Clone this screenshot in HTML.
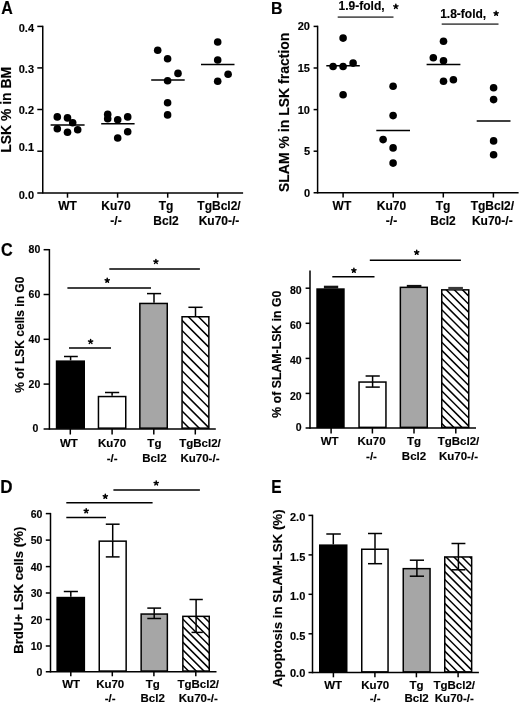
<!DOCTYPE html>
<html><head><meta charset="utf-8"><title>Figure</title>
<style>
html,body{margin:0;padding:0;background:#fff;}
body{width:520px;height:704px;overflow:hidden;}
svg{display:block;filter:blur(0.35px);}
text{font-family:"Liberation Sans", sans-serif;font-weight:bold;stroke:#000;stroke-width:0.15px;}
</style></head><body>
<svg width="520" height="704" viewBox="0 0 520 704">

<rect width="520" height="704" fill="#fff"/>
<text transform="translate(1.2 13.8) scale(1 1.1)" font-size="16">A</text>
<line x1="42.75" y1="25.7" x2="42.75" y2="193.6" stroke="#000" stroke-width="1.5"/>
<line x1="37.3" y1="26.4" x2="42.75" y2="26.4" stroke="#000" stroke-width="1.5"/>
<line x1="37.3" y1="67.9" x2="42.75" y2="67.9" stroke="#000" stroke-width="1.5"/>
<line x1="37.3" y1="109.5" x2="42.75" y2="109.5" stroke="#000" stroke-width="1.5"/>
<line x1="37.3" y1="151.2" x2="42.75" y2="151.2" stroke="#000" stroke-width="1.5"/>
<line x1="37.3" y1="192.9" x2="243.1" y2="192.9" stroke="#000" stroke-width="1.5"/>
<text x="34.0" y="31.5" font-size="11" text-anchor="end" fill="#000">0.4</text>
<text x="34.0" y="72.8" font-size="11" text-anchor="end" fill="#000">0.3</text>
<text x="34.0" y="114.4" font-size="11" text-anchor="end" fill="#000">0.2</text>
<text x="34.0" y="150.6" font-size="11" text-anchor="end" fill="#000">0.1</text>
<text x="34.0" y="198.7" font-size="11" text-anchor="end" fill="#000">0.0</text>
<line x1="67.5" y1="192.9" x2="67.5" y2="197.7" stroke="#000" stroke-width="1.5"/>
<line x1="117.6" y1="192.9" x2="117.6" y2="197.7" stroke="#000" stroke-width="1.5"/>
<line x1="167.7" y1="192.9" x2="167.7" y2="197.7" stroke="#000" stroke-width="1.5"/>
<line x1="217.7" y1="192.9" x2="217.7" y2="197.7" stroke="#000" stroke-width="1.5"/>
<text x="11.0" y="109.8" font-size="13.9" text-anchor="middle" fill="#000" transform="rotate(-90 11.0 109.8)">LSK % in BM</text>
<circle cx="57.3" cy="116.9" r="3.8" fill="#000"/>
<circle cx="67.5" cy="117.9" r="3.8" fill="#000"/>
<circle cx="72.7" cy="122.7" r="3.8" fill="#000"/>
<circle cx="57.3" cy="128.8" r="3.8" fill="#000"/>
<circle cx="67.5" cy="132.3" r="3.8" fill="#000"/>
<circle cx="77.7" cy="129.8" r="3.8" fill="#000"/>
<circle cx="107.7" cy="114.4" r="3.8" fill="#000"/>
<circle cx="107.7" cy="118.7" r="3.8" fill="#000"/>
<circle cx="117.7" cy="119.8" r="3.8" fill="#000"/>
<circle cx="127.7" cy="116.9" r="3.8" fill="#000"/>
<circle cx="127.7" cy="131.7" r="3.8" fill="#000"/>
<circle cx="117.7" cy="138" r="3.8" fill="#000"/>
<circle cx="157.7" cy="50.3" r="3.8" fill="#000"/>
<circle cx="167.6" cy="58.8" r="3.8" fill="#000"/>
<circle cx="178" cy="73.4" r="3.8" fill="#000"/>
<circle cx="167.6" cy="80.8" r="3.8" fill="#000"/>
<circle cx="167.6" cy="102.7" r="3.8" fill="#000"/>
<circle cx="167.6" cy="114.9" r="3.8" fill="#000"/>
<circle cx="217.7" cy="42" r="3.8" fill="#000"/>
<circle cx="217.7" cy="60" r="3.8" fill="#000"/>
<circle cx="228.1" cy="74.3" r="3.8" fill="#000"/>
<circle cx="217.7" cy="81.2" r="3.8" fill="#000"/>
<line x1="50.6" y1="125" x2="84.6" y2="125" stroke="#000" stroke-width="1.5"/>
<line x1="101.2" y1="123.7" x2="134.6" y2="123.7" stroke="#000" stroke-width="1.5"/>
<line x1="151.2" y1="80.1" x2="184.7" y2="80.1" stroke="#000" stroke-width="1.5"/>
<line x1="201" y1="64.6" x2="234.5" y2="64.6" stroke="#000" stroke-width="1.5"/>
<text x="67.5" y="209.7" font-size="12" text-anchor="middle" fill="#000">WT</text>
<text x="116.0" y="209.7" font-size="12" text-anchor="middle" fill="#000">Ku70</text>
<text x="116.0" y="224.8" font-size="12" text-anchor="middle" fill="#000">-/-</text>
<text x="166.0" y="209.7" font-size="12" text-anchor="middle" fill="#000">Tg</text>
<text x="166.0" y="224.8" font-size="12" text-anchor="middle" fill="#000">Bcl2</text>
<text x="219.0" y="209.7" font-size="12" text-anchor="middle" fill="#000">TgBcl2/</text>
<text x="219.0" y="224.8" font-size="12" text-anchor="middle" fill="#000">Ku70-/-</text>
<text transform="translate(270.9 13.7) scale(1 1.08)" font-size="16">B</text>
<line x1="317.6" y1="25.7" x2="317.6" y2="193.5" stroke="#000" stroke-width="1.5"/>
<line x1="313.6" y1="26.4" x2="317.6" y2="26.4" stroke="#000" stroke-width="1.5"/>
<line x1="313.6" y1="68.0" x2="317.6" y2="68.0" stroke="#000" stroke-width="1.5"/>
<line x1="313.6" y1="109.6" x2="317.6" y2="109.6" stroke="#000" stroke-width="1.5"/>
<line x1="313.6" y1="151.2" x2="317.6" y2="151.2" stroke="#000" stroke-width="1.5"/>
<line x1="313.6" y1="192.8" x2="518.6" y2="192.8" stroke="#000" stroke-width="1.5"/>
<text x="310.0" y="30.0" font-size="11" text-anchor="end" fill="#000">20</text>
<text x="310.0" y="72.0" font-size="11" text-anchor="end" fill="#000">15</text>
<text x="310.0" y="114.0" font-size="11" text-anchor="end" fill="#000">10</text>
<text x="310.0" y="155.0" font-size="11" text-anchor="end" fill="#000">5</text>
<text x="310.0" y="197.0" font-size="11" text-anchor="end" fill="#000">0</text>
<line x1="343.1" y1="192.8" x2="343.1" y2="197.5" stroke="#000" stroke-width="1.5"/>
<line x1="393.2" y1="192.8" x2="393.2" y2="197.5" stroke="#000" stroke-width="1.5"/>
<line x1="443.3" y1="192.8" x2="443.3" y2="197.5" stroke="#000" stroke-width="1.5"/>
<line x1="493.4" y1="192.8" x2="493.4" y2="197.5" stroke="#000" stroke-width="1.5"/>
<text x="289.0" y="112.35" font-size="14" text-anchor="middle" fill="#000" transform="rotate(-90 289.0 112.35)">SLAM % in LSK fraction</text>
<circle cx="343.1" cy="38.1" r="3.8" fill="#000"/>
<circle cx="333.1" cy="66.5" r="3.8" fill="#000"/>
<circle cx="343.1" cy="66.5" r="3.8" fill="#000"/>
<circle cx="353.1" cy="63.1" r="3.8" fill="#000"/>
<circle cx="343.1" cy="94.8" r="3.8" fill="#000"/>
<circle cx="393.1" cy="86.3" r="3.8" fill="#000"/>
<circle cx="393.1" cy="115.6" r="3.8" fill="#000"/>
<circle cx="383.1" cy="139.6" r="3.8" fill="#000"/>
<circle cx="393.1" cy="147.9" r="3.8" fill="#000"/>
<circle cx="393.1" cy="163.1" r="3.8" fill="#000"/>
<circle cx="443.5" cy="41.3" r="3.8" fill="#000"/>
<circle cx="433.3" cy="57.8" r="3.8" fill="#000"/>
<circle cx="443.5" cy="60.8" r="3.8" fill="#000"/>
<circle cx="443.5" cy="81.3" r="3.8" fill="#000"/>
<circle cx="453.4" cy="79.7" r="3.8" fill="#000"/>
<circle cx="493.6" cy="87.7" r="3.8" fill="#000"/>
<circle cx="493.6" cy="99.6" r="3.8" fill="#000"/>
<circle cx="493.6" cy="140.9" r="3.8" fill="#000"/>
<circle cx="493.6" cy="154.7" r="3.8" fill="#000"/>
<line x1="326.3" y1="65.8" x2="359.8" y2="65.8" stroke="#000" stroke-width="1.5"/>
<line x1="376.3" y1="130.6" x2="410" y2="130.6" stroke="#000" stroke-width="1.5"/>
<line x1="426.6" y1="64.4" x2="460.4" y2="64.4" stroke="#000" stroke-width="1.5"/>
<line x1="476.7" y1="120.9" x2="510.5" y2="120.9" stroke="#000" stroke-width="1.5"/>
<text x="341.9" y="209.7" font-size="12" text-anchor="middle" fill="#000">WT</text>
<text x="391.5" y="209.7" font-size="12" text-anchor="middle" fill="#000">Ku70</text>
<text x="391.5" y="224.8" font-size="12" text-anchor="middle" fill="#000">-/-</text>
<text x="443.0" y="209.7" font-size="12" text-anchor="middle" fill="#000">Tg</text>
<text x="443.0" y="224.8" font-size="12" text-anchor="middle" fill="#000">Bcl2</text>
<text x="492.3" y="209.7" font-size="12" text-anchor="middle" fill="#000">TgBcl2/</text>
<text x="492.3" y="224.8" font-size="12" text-anchor="middle" fill="#000">Ku70-/-</text>
<line x1="337.7" y1="17.2" x2="393.5" y2="17.2" stroke="#5a5a5a" stroke-width="1.8"/>
<line x1="441.7" y1="24.2" x2="498.5" y2="24.2" stroke="#5a5a5a" stroke-width="1.8"/>
<text x="338.6" y="10.2" font-size="12" text-anchor="start" fill="#000">1.9-fold,</text>
<text x="440.2" y="17.6" font-size="12" text-anchor="start" fill="#000">1.8-fold,</text>
<path d="M395.85 6.56L395.85 4.36M395.85 6.56L397.94 5.88M395.85 6.56L397.14 8.34M395.85 6.56L394.56 8.34M395.85 6.56L393.76 5.88" stroke="#000" stroke-width="1.5" stroke-linecap="round" fill="none"/>
<path d="M496.10 13.51L496.10 11.31M496.10 13.51L498.19 12.83M496.10 13.51L497.39 15.29M496.10 13.51L494.81 15.29M496.10 13.51L494.01 12.83" stroke="#000" stroke-width="1.5" stroke-linecap="round" fill="none"/>
<text transform="translate(1.0 256.0) scale(1 1.1)" font-size="16.2">C</text>
<line x1="49.4" y1="249.0" x2="49.4" y2="429.6" stroke="#000" stroke-width="1.5"/>
<line x1="43.6" y1="249.7" x2="49.4" y2="249.7" stroke="#000" stroke-width="1.5"/>
<line x1="43.6" y1="294.5" x2="49.4" y2="294.5" stroke="#000" stroke-width="1.5"/>
<line x1="43.6" y1="339.3" x2="49.4" y2="339.3" stroke="#000" stroke-width="1.5"/>
<line x1="43.6" y1="384.1" x2="49.4" y2="384.1" stroke="#000" stroke-width="1.5"/>
<line x1="43.6" y1="428.9" x2="215.8" y2="428.9" stroke="#000" stroke-width="1.5"/>
<text x="40.3" y="253.39999999999998" font-size="10.5" text-anchor="end" fill="#000">80</text>
<text x="40.3" y="298.2" font-size="10.5" text-anchor="end" fill="#000">60</text>
<text x="40.3" y="343.0" font-size="10.5" text-anchor="end" fill="#000">40</text>
<text x="40.3" y="387.8" font-size="10.5" text-anchor="end" fill="#000">20</text>
<text x="38.4" y="431.8" font-size="10.5" text-anchor="end" fill="#000">0</text>
<line x1="70.3" y1="428.9" x2="70.3" y2="434.5" stroke="#000" stroke-width="1.5"/>
<line x1="112.1" y1="428.9" x2="112.1" y2="434.5" stroke="#000" stroke-width="1.5"/>
<line x1="153.8" y1="428.9" x2="153.8" y2="434.5" stroke="#000" stroke-width="1.5"/>
<line x1="195.3" y1="428.9" x2="195.3" y2="434.5" stroke="#000" stroke-width="1.5"/>
<text x="24.2" y="334.7" font-size="12" text-anchor="middle" fill="#000" transform="rotate(-90 24.2 334.7)">% of LSK cells in G0</text>
<rect x="55.8" y="360.4" width="29.200000000000003" height="68.5" fill="#000"/>
<line x1="70.6" y1="360.4" x2="70.6" y2="356.5" stroke="#000" stroke-width="1.5"/>
<line x1="64" y1="356.5" x2="77.8" y2="356.5" stroke="#000" stroke-width="1.5"/>
<rect x="98.45" y="396.55" width="27.299999999999997" height="31.599999999999966" fill="#fff" stroke="#000" stroke-width="1.5"/>
<line x1="112.1" y1="395.8" x2="112.1" y2="392.5" stroke="#000" stroke-width="1.5"/>
<line x1="105" y1="392.5" x2="119.2" y2="392.5" stroke="#000" stroke-width="1.5"/>
<rect x="139.85" y="303.45" width="27.400000000000006" height="124.69999999999999" fill="#a6a6a6" stroke="#000" stroke-width="1.5"/>
<line x1="154.0" y1="302.7" x2="154.0" y2="293.6" stroke="#000" stroke-width="1.5"/>
<line x1="147" y1="293.6" x2="161.1" y2="293.6" stroke="#000" stroke-width="1.5"/>
<clipPath id="cp1"><rect x="182.05" y="316.75" width="26.799999999999983" height="111.39999999999998"/></clipPath>
<rect x="182.05" y="316.75" width="26.799999999999983" height="111.39999999999998" fill="#fff"/>
<path clip-path="url(#cp1)" d="M179.30 438.42L211.60 470.72M179.30 428.36L211.60 460.66M179.30 418.30L211.60 450.60M179.30 408.24L211.60 440.54M179.30 398.18L211.60 430.48M179.30 388.12L211.60 420.42M179.30 378.06L211.60 410.36M179.30 368.00L211.60 400.30M179.30 357.94L211.60 390.24M179.30 347.88L211.60 380.18M179.30 337.82L211.60 370.12M179.30 327.76L211.60 360.06M179.30 317.70L211.60 350.00M179.30 307.64L211.60 339.94M179.30 297.58L211.60 329.88M179.30 287.52L211.60 319.82M179.30 277.46L211.60 309.76M179.30 267.40L211.60 299.70" stroke="#000" stroke-width="1.5" fill="none"/>
<rect x="182.05" y="316.75" width="26.799999999999983" height="111.39999999999998" fill="none" stroke="#000" stroke-width="1.5"/>
<line x1="195.5" y1="316.0" x2="195.5" y2="307.3" stroke="#000" stroke-width="1.5"/>
<line x1="188.4" y1="307.3" x2="202.6" y2="307.3" stroke="#000" stroke-width="1.5"/>
<line x1="69" y1="348.1" x2="111" y2="348.1" stroke="#000" stroke-width="1.5"/>
<path d="M90.60 341.61L90.60 339.41M90.60 341.61L92.69 340.93M90.60 341.61L91.89 343.39M90.60 341.61L89.31 343.39M90.60 341.61L88.51 340.93" stroke="#000" stroke-width="1.5" stroke-linecap="round" fill="none"/>
<line x1="67.4" y1="288" x2="151" y2="288" stroke="#000" stroke-width="1.5"/>
<path d="M107.20 280.46L107.20 278.26M107.20 280.46L109.29 279.78M107.20 280.46L108.49 282.24M107.20 280.46L105.91 282.24M107.20 280.46L105.11 279.78" stroke="#000" stroke-width="1.5" stroke-linecap="round" fill="none"/>
<line x1="109.3" y1="269" x2="199.9" y2="269" stroke="#000" stroke-width="1.5"/>
<path d="M155.90 261.61L155.90 259.41M155.90 261.61L157.99 260.93M155.90 261.61L157.19 263.39M155.90 261.61L154.61 263.39M155.90 261.61L153.81 260.93" stroke="#000" stroke-width="1.5" stroke-linecap="round" fill="none"/>
<text x="68.9" y="447.0" font-size="11.5" text-anchor="middle" fill="#000">WT</text>
<text x="112.1" y="447.0" font-size="11.5" text-anchor="middle" fill="#000">Ku70</text>
<text x="112.1" y="461.8" font-size="11.5" text-anchor="middle" fill="#000">-/-</text>
<text x="154.4" y="447.0" font-size="11.5" text-anchor="middle" fill="#000">Tg</text>
<text x="154.4" y="461.8" font-size="11.5" text-anchor="middle" fill="#000">Bcl2</text>
<text x="200.0" y="447.0" font-size="11.5" text-anchor="middle" fill="#000">TgBcl2/</text>
<text x="200.0" y="461.8" font-size="11.5" text-anchor="middle" fill="#000">Ku70-/-</text>
<line x1="310.0" y1="270.6" x2="310.0" y2="428.8" stroke="#000" stroke-width="1.5"/>
<line x1="305.6" y1="288.2" x2="310" y2="288.2" stroke="#000" stroke-width="1.5"/>
<line x1="305.6" y1="323.3" x2="310" y2="323.3" stroke="#000" stroke-width="1.5"/>
<line x1="305.6" y1="358.4" x2="310" y2="358.4" stroke="#000" stroke-width="1.5"/>
<line x1="305.6" y1="393.4" x2="310" y2="393.4" stroke="#000" stroke-width="1.5"/>
<line x1="305.6" y1="428.1" x2="476.0" y2="428.1" stroke="#000" stroke-width="1.5"/>
<text x="301.6" y="294.0" font-size="10.5" text-anchor="end" fill="#000">80</text>
<text x="301.6" y="329.0" font-size="10.5" text-anchor="end" fill="#000">60</text>
<text x="301.6" y="364.0" font-size="10.5" text-anchor="end" fill="#000">40</text>
<text x="301.6" y="400.0" font-size="10.5" text-anchor="end" fill="#000">20</text>
<text x="301.6" y="431.0" font-size="10.5" text-anchor="end" fill="#000">0</text>
<line x1="331.1" y1="428.1" x2="331.1" y2="433.5" stroke="#000" stroke-width="1.5"/>
<line x1="372.4" y1="428.1" x2="372.4" y2="433.5" stroke="#000" stroke-width="1.5"/>
<line x1="414.0" y1="428.1" x2="414.0" y2="433.5" stroke="#000" stroke-width="1.5"/>
<line x1="455.8" y1="428.1" x2="455.8" y2="433.5" stroke="#000" stroke-width="1.5"/>
<text x="281.3" y="354.1" font-size="12.3" text-anchor="middle" fill="#000" transform="rotate(-90 281.3 354.1)">% of SLAM-LSK in G0</text>
<rect x="316.3" y="288.3" width="28.399999999999977" height="139.8" fill="#000"/>
<rect x="323.9" y="285.7" width="14.3" height="2.8" fill="#151515"/>
<rect x="359.05" y="382.05" width="26.899999999999977" height="45.30000000000001" fill="#fff" stroke="#000" stroke-width="1.5"/>
<line x1="372.6" y1="381.3" x2="372.6" y2="376.0" stroke="#000" stroke-width="1.5"/>
<line x1="365.6" y1="376.0" x2="379.8" y2="376.0" stroke="#000" stroke-width="1.5"/>
<line x1="372.6" y1="381.3" x2="372.6" y2="387.1" stroke="#000" stroke-width="1.5"/>
<line x1="365.6" y1="387.1" x2="379.8" y2="387.1" stroke="#000" stroke-width="1.5"/>
<rect x="400.35" y="287.35" width="26.899999999999977" height="140.0" fill="#a6a6a6" stroke="#000" stroke-width="1.5"/>
<rect x="406.8" y="284.9" width="14.6" height="2.9" fill="#111"/>
<clipPath id="cp2"><rect x="441.75" y="289.85" width="27.0" height="137.5"/></clipPath>
<rect x="441.75" y="289.85" width="27.0" height="137.5" fill="#fff"/>
<path clip-path="url(#cp2)" d="M439.00 436.95L471.50 469.45M439.00 428.82L471.50 461.32M439.00 420.70L471.50 453.20M439.00 412.57L471.50 445.07M439.00 404.45L471.50 436.95M439.00 396.32L471.50 428.82M439.00 388.20L471.50 420.70M439.00 380.07L471.50 412.57M439.00 371.95L471.50 404.45M439.00 363.82L471.50 396.32M439.00 355.70L471.50 388.20M439.00 347.57L471.50 380.07M439.00 339.45L471.50 371.95M439.00 331.32L471.50 363.82M439.00 323.20L471.50 355.70M439.00 315.07L471.50 347.57M439.00 306.95L471.50 339.45M439.00 298.82L471.50 331.32M439.00 290.70L471.50 323.20M439.00 282.57L471.50 315.07M439.00 274.45L471.50 306.95M439.00 266.32L471.50 298.82M439.00 258.20L471.50 290.70M439.00 250.07L471.50 282.57" stroke="#000" stroke-width="1.5" fill="none"/>
<rect x="441.75" y="289.85" width="27.0" height="137.5" fill="none" stroke="#000" stroke-width="1.5"/>
<rect x="448.3" y="286.9" width="14.6" height="3.0" fill="#3a3a3a"/>
<line x1="332.3" y1="276.7" x2="374.5" y2="276.7" stroke="#000" stroke-width="1.5"/>
<path d="M353.90 270.51L353.90 268.31M353.90 270.51L355.99 269.83M353.90 270.51L355.19 272.29M353.90 270.51L352.61 272.29M353.90 270.51L351.81 269.83" stroke="#000" stroke-width="1.5" stroke-linecap="round" fill="none"/>
<line x1="369.8" y1="260.2" x2="460.9" y2="260.2" stroke="#000" stroke-width="1.5"/>
<path d="M416.70 252.51L416.70 250.31M416.70 252.51L418.79 251.83M416.70 252.51L417.99 254.29M416.70 252.51L415.41 254.29M416.70 252.51L414.61 251.83" stroke="#000" stroke-width="1.5" stroke-linecap="round" fill="none"/>
<text x="329.6" y="445.1" font-size="11.5" text-anchor="middle" fill="#000">WT</text>
<text x="371.5" y="445.1" font-size="11.5" text-anchor="middle" fill="#000">Ku70</text>
<text x="371.5" y="459.6" font-size="11.5" text-anchor="middle" fill="#000">-/-</text>
<text x="414.0" y="445.1" font-size="11.5" text-anchor="middle" fill="#000">Tg</text>
<text x="414.0" y="459.6" font-size="11.5" text-anchor="middle" fill="#000">Bcl2</text>
<text x="458.5" y="445.1" font-size="11.5" text-anchor="middle" fill="#000">TgBcl2/</text>
<text x="458.5" y="459.6" font-size="11.5" text-anchor="middle" fill="#000">Ku70-/-</text>
<text transform="translate(0.2 492.5) scale(1 1.08)" font-size="17">D</text>
<line x1="50.5" y1="512.9" x2="50.5" y2="672.5" stroke="#000" stroke-width="1.5"/>
<line x1="45.8" y1="513.6" x2="50.5" y2="513.6" stroke="#000" stroke-width="1.5"/>
<line x1="45.8" y1="540.1" x2="50.5" y2="540.1" stroke="#000" stroke-width="1.5"/>
<line x1="45.8" y1="566.6" x2="50.5" y2="566.6" stroke="#000" stroke-width="1.5"/>
<line x1="45.8" y1="593.0" x2="50.5" y2="593.0" stroke="#000" stroke-width="1.5"/>
<line x1="45.8" y1="619.5" x2="50.5" y2="619.5" stroke="#000" stroke-width="1.5"/>
<line x1="45.8" y1="646.0" x2="50.5" y2="646.0" stroke="#000" stroke-width="1.5"/>
<line x1="45.8" y1="671.8" x2="216.5" y2="671.8" stroke="#000" stroke-width="1.5"/>
<text x="42.4" y="517.6" font-size="10.5" text-anchor="end" fill="#000">60</text>
<text x="42.4" y="544.1" font-size="10.5" text-anchor="end" fill="#000">50</text>
<text x="42.4" y="570.6" font-size="10.5" text-anchor="end" fill="#000">40</text>
<text x="42.4" y="597.0" font-size="10.5" text-anchor="end" fill="#000">30</text>
<text x="42.4" y="623.5" font-size="10.5" text-anchor="end" fill="#000">20</text>
<text x="42.4" y="650.0" font-size="10.5" text-anchor="end" fill="#000">10</text>
<text x="42.4" y="675.8" font-size="10.5" text-anchor="end" fill="#000">0</text>
<line x1="70.8" y1="671.8" x2="70.8" y2="676.3" stroke="#000" stroke-width="1.5"/>
<line x1="112.3" y1="671.8" x2="112.3" y2="676.3" stroke="#000" stroke-width="1.5"/>
<line x1="153.9" y1="671.8" x2="153.9" y2="676.3" stroke="#000" stroke-width="1.5"/>
<line x1="195.8" y1="671.8" x2="195.8" y2="676.3" stroke="#000" stroke-width="1.5"/>
<text x="23.4" y="590.3" font-size="13.2" text-anchor="middle" fill="#000" transform="rotate(-90 23.4 590.3)">BrdU+ LSK cells (%)</text>
<rect x="56.4" y="596.8" width="28.699999999999996" height="75.0" fill="#000"/>
<line x1="70.8" y1="596.8" x2="70.8" y2="591.5" stroke="#000" stroke-width="1.5"/>
<line x1="63.8" y1="591.5" x2="77.9" y2="591.5" stroke="#000" stroke-width="1.5"/>
<rect x="99.25" y="541.15" width="26.900000000000006" height="129.89999999999998" fill="#fff" stroke="#000" stroke-width="1.5"/>
<line x1="112.7" y1="540.4" x2="112.7" y2="524.2" stroke="#000" stroke-width="1.5"/>
<line x1="105.8" y1="524.2" x2="119.6" y2="524.2" stroke="#000" stroke-width="1.5"/>
<line x1="112.7" y1="540.4" x2="112.7" y2="556.9" stroke="#000" stroke-width="1.5"/>
<line x1="105.8" y1="556.9" x2="119.6" y2="556.9" stroke="#000" stroke-width="1.5"/>
<rect x="141.15" y="614.05" width="26.19999999999999" height="57.0" fill="#a6a6a6" stroke="#000" stroke-width="1.5"/>
<line x1="154.2" y1="613.3" x2="154.2" y2="608.1" stroke="#000" stroke-width="1.5"/>
<line x1="147.3" y1="608.1" x2="161.1" y2="608.1" stroke="#000" stroke-width="1.5"/>
<line x1="154.2" y1="613.3" x2="154.2" y2="618.5" stroke="#000" stroke-width="1.5"/>
<line x1="147.3" y1="618.5" x2="161.1" y2="618.5" stroke="#000" stroke-width="1.5"/>
<clipPath id="cp3"><rect x="182.85" y="616.35" width="26.400000000000006" height="54.69999999999993"/></clipPath>
<rect x="182.85" y="616.35" width="26.400000000000006" height="54.69999999999993" fill="#fff"/>
<path clip-path="url(#cp3)" d="M180.10 678.06L212.00 709.96M180.10 670.34L212.00 702.24M180.10 662.62L212.00 694.52M180.10 654.90L212.00 686.80M180.10 647.18L212.00 679.08M180.10 639.46L212.00 671.36M180.10 631.74L212.00 663.64M180.10 624.02L212.00 655.92M180.10 616.30L212.00 648.20M180.10 608.58L212.00 640.48M180.10 600.86L212.00 632.76M180.10 593.14L212.00 625.04M180.10 585.42L212.00 617.32M180.10 577.70L212.00 609.60" stroke="#000" stroke-width="1.5" fill="none"/>
<rect x="182.85" y="616.35" width="26.400000000000006" height="54.69999999999993" fill="none" stroke="#000" stroke-width="1.5"/>
<line x1="196.1" y1="615.9" x2="196.1" y2="599.5" stroke="#000" stroke-width="1.5"/>
<line x1="189.5" y1="599.5" x2="202.8" y2="599.5" stroke="#000" stroke-width="1.5"/>
<line x1="196.1" y1="615.9" x2="196.1" y2="632.4" stroke="#000" stroke-width="1.5"/>
<line x1="191.5" y1="632.4" x2="202.8" y2="632.4" stroke="#000" stroke-width="1.5"/>
<line x1="66.3" y1="517.4" x2="106" y2="517.4" stroke="#000" stroke-width="1.5"/>
<path d="M86.20 510.91L86.20 508.71M86.20 510.91L88.29 510.23M86.20 510.91L87.49 512.69M86.20 510.91L84.91 512.69M86.20 510.91L84.11 510.23" stroke="#000" stroke-width="1.5" stroke-linecap="round" fill="none"/>
<line x1="66.3" y1="502.8" x2="152.6" y2="502.8" stroke="#000" stroke-width="1.5"/>
<path d="M105.30 496.51L105.30 494.31M105.30 496.51L107.39 495.83M105.30 496.51L106.59 498.29M105.30 496.51L104.01 498.29M105.30 496.51L103.21 495.83" stroke="#000" stroke-width="1.5" stroke-linecap="round" fill="none"/>
<line x1="113.4" y1="490" x2="199.9" y2="490" stroke="#000" stroke-width="1.5"/>
<path d="M156.20 483.11L156.20 480.91M156.20 483.11L158.29 482.43M156.20 483.11L157.49 484.89M156.20 483.11L154.91 484.89M156.20 483.11L154.11 482.43" stroke="#000" stroke-width="1.5" stroke-linecap="round" fill="none"/>
<text x="71.2" y="688.4" font-size="11.5" text-anchor="middle" fill="#000">WT</text>
<text x="110.2" y="688.4" font-size="11.5" text-anchor="middle" fill="#000">Ku70</text>
<text x="110.2" y="702.0" font-size="11.5" text-anchor="middle" fill="#000">-/-</text>
<text x="152.7" y="688.4" font-size="11.5" text-anchor="middle" fill="#000">Tg</text>
<text x="152.7" y="702.0" font-size="11.5" text-anchor="middle" fill="#000">Bcl2</text>
<text x="198.3" y="688.4" font-size="11.5" text-anchor="middle" fill="#000">TgBcl2/</text>
<text x="198.3" y="702.0" font-size="11.5" text-anchor="middle" fill="#000">Ku70-/-</text>
<text transform="translate(271.2 492.5) scale(1 1.13)" font-size="15.5">E</text>
<line x1="312.5" y1="514.7" x2="312.5" y2="673.3" stroke="#000" stroke-width="1.5"/>
<line x1="308.5" y1="515.4" x2="312.5" y2="515.4" stroke="#000" stroke-width="1.5"/>
<line x1="308.5" y1="554.9" x2="312.5" y2="554.9" stroke="#000" stroke-width="1.5"/>
<line x1="308.5" y1="594.3" x2="312.5" y2="594.3" stroke="#000" stroke-width="1.5"/>
<line x1="308.5" y1="633.8" x2="312.5" y2="633.8" stroke="#000" stroke-width="1.5"/>
<line x1="308.5" y1="672.6" x2="478.9" y2="672.6" stroke="#000" stroke-width="1.5"/>
<text x="305.3" y="521.0" font-size="11" text-anchor="end" fill="#000">2.0</text>
<text x="305.3" y="561.0" font-size="11" text-anchor="end" fill="#000">1.5</text>
<text x="305.3" y="600.0" font-size="11" text-anchor="end" fill="#000">1.0</text>
<text x="305.3" y="640.0" font-size="11" text-anchor="end" fill="#000">0.5</text>
<text x="305.3" y="677.0" font-size="11" text-anchor="end" fill="#000">0.0</text>
<line x1="333.4" y1="672.6" x2="333.4" y2="677.3" stroke="#000" stroke-width="1.5"/>
<line x1="374.9" y1="672.6" x2="374.9" y2="677.3" stroke="#000" stroke-width="1.5"/>
<line x1="416.4" y1="672.6" x2="416.4" y2="677.3" stroke="#000" stroke-width="1.5"/>
<line x1="458.1" y1="672.6" x2="458.1" y2="677.3" stroke="#000" stroke-width="1.5"/>
<text x="282.0" y="598.2" font-size="13.33" text-anchor="middle" fill="#000" transform="rotate(-90 282.0 598.2)">Apoptosis in SLAM-LSK (%)</text>
<rect x="319.0" y="544.4" width="28.5" height="128.20000000000005" fill="#000"/>
<line x1="333.3" y1="544.4" x2="333.3" y2="534" stroke="#000" stroke-width="1.5"/>
<line x1="326.3" y1="534" x2="340.8" y2="534" stroke="#000" stroke-width="1.5"/>
<rect x="361.75" y="549.25" width="26.30000000000001" height="122.60000000000002" fill="#fff" stroke="#000" stroke-width="1.5"/>
<line x1="375.0" y1="548.5" x2="375.0" y2="533.5" stroke="#000" stroke-width="1.5"/>
<line x1="368" y1="533.5" x2="382.1" y2="533.5" stroke="#000" stroke-width="1.5"/>
<line x1="375.0" y1="548.5" x2="375.0" y2="563.7" stroke="#000" stroke-width="1.5"/>
<line x1="368" y1="563.7" x2="382.1" y2="563.7" stroke="#000" stroke-width="1.5"/>
<rect x="403.25" y="568.65" width="26.80000000000001" height="103.20000000000005" fill="#a6a6a6" stroke="#000" stroke-width="1.5"/>
<line x1="416.9" y1="567.9" x2="416.9" y2="560.2" stroke="#000" stroke-width="1.5"/>
<line x1="409.8" y1="560.2" x2="424" y2="560.2" stroke="#000" stroke-width="1.5"/>
<line x1="416.9" y1="567.9" x2="416.9" y2="576.2" stroke="#000" stroke-width="1.5"/>
<line x1="409.8" y1="576.2" x2="424" y2="576.2" stroke="#000" stroke-width="1.5"/>
<clipPath id="cp4"><rect x="444.75" y="556.95" width="26.899999999999977" height="114.89999999999998"/></clipPath>
<rect x="444.75" y="556.95" width="26.899999999999977" height="114.89999999999998" fill="#fff"/>
<path clip-path="url(#cp4)" d="M442.00 680.15L474.40 712.55M442.00 672.20L474.40 704.60M442.00 664.25L474.40 696.65M442.00 656.30L474.40 688.70M442.00 648.35L474.40 680.75M442.00 640.40L474.40 672.80M442.00 632.45L474.40 664.85M442.00 624.50L474.40 656.90M442.00 616.55L474.40 648.95M442.00 608.60L474.40 641.00M442.00 600.65L474.40 633.05M442.00 592.70L474.40 625.10M442.00 584.75L474.40 617.15M442.00 576.80L474.40 609.20M442.00 568.85L474.40 601.25M442.00 560.90L474.40 593.30M442.00 552.95L474.40 585.35M442.00 545.00L474.40 577.40M442.00 537.05L474.40 569.45M442.00 529.10L474.40 561.50M442.00 521.15L474.40 553.55M442.00 513.20L474.40 545.60" stroke="#000" stroke-width="1.5" fill="none"/>
<rect x="444.75" y="556.95" width="26.899999999999977" height="114.89999999999998" fill="none" stroke="#000" stroke-width="1.5"/>
<line x1="458.4" y1="556.3" x2="458.4" y2="543.5" stroke="#000" stroke-width="1.5"/>
<line x1="451.5" y1="543.5" x2="465.4" y2="543.5" stroke="#000" stroke-width="1.5"/>
<line x1="458.4" y1="556.3" x2="458.4" y2="569.8" stroke="#000" stroke-width="1.5"/>
<line x1="451.5" y1="569.8" x2="465.4" y2="569.8" stroke="#000" stroke-width="1.5"/>
<text x="333.1" y="688.5" font-size="11.5" text-anchor="middle" fill="#000">WT</text>
<text x="375.2" y="688.5" font-size="11.5" text-anchor="middle" fill="#000">Ku70</text>
<text x="375.2" y="701.9" font-size="11.5" text-anchor="middle" fill="#000">-/-</text>
<text x="416.6" y="688.5" font-size="11.5" text-anchor="middle" fill="#000">Tg</text>
<text x="416.6" y="701.9" font-size="11.5" text-anchor="middle" fill="#000">Bcl2</text>
<text x="454.3" y="688.5" font-size="11.5" text-anchor="middle" fill="#000">TgBcl2/</text>
<text x="454.3" y="701.9" font-size="11.5" text-anchor="middle" fill="#000">Ku70-/-</text>
</svg>
</body></html>
